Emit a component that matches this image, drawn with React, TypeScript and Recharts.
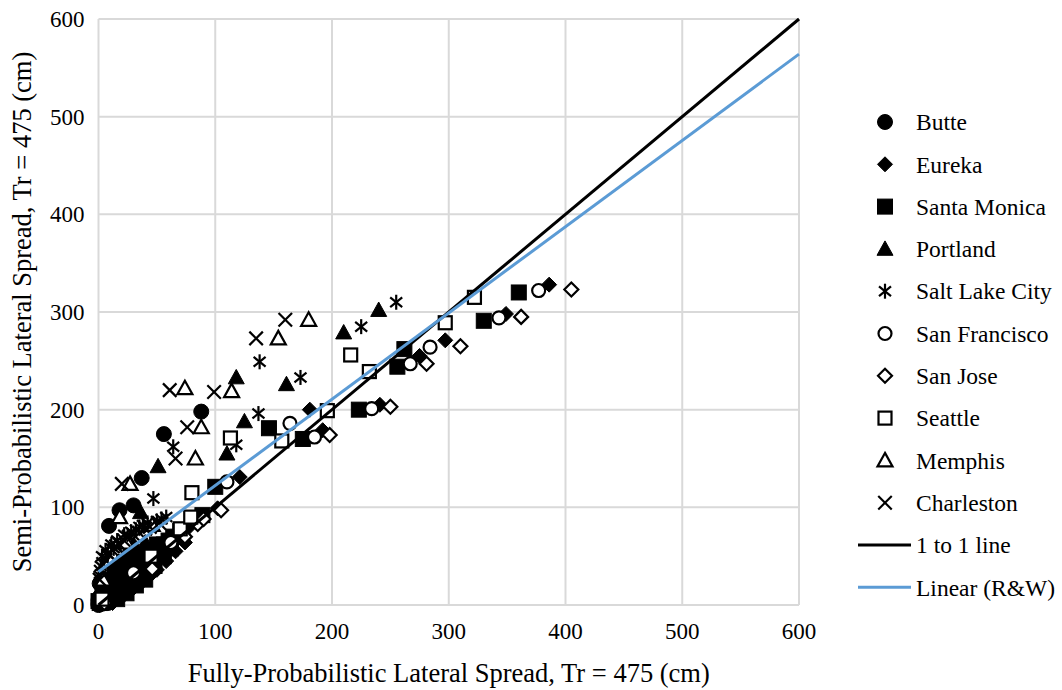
import React from "react";
import { ScatterChart, Scatter, XAxis, YAxis, CartesianGrid, Label } from "recharts";

type Pt = [number, number];

const axisTicks = [0, 100, 200, 300, 400, 500, 600];

const butte: Pt[] = [[0, 0], [0, 2], [0, 5], [1, 8], [2, 1], [3, 6], [5, 3], [7, 9], [10, 14], [12, 20], [15, 28], [1, 4], [2, 10], [3, 18], [4, 24], [1, 22], [6, 14], [8, 2], [4, 12], [9, 81], [18, 97], [30, 102], [37, 130], [56, 175], [88, 198]];
const eureka: Pt[] = [[0, 1], [1, 0], [2, 2], [4, 6], [6, 4], [10, 9], [12, 2], [20, 8], [28, 15], [36, 22], [44, 30], [50, 36], [58, 45], [66, 55], [74, 64], [18, 15], [26, 24], [34, 30], [42, 40], [50, 50], [58, 58], [66, 66], [76, 78], [84, 84], [3, 3], [8, 6], [14, 12], [22, 18], [30, 27], [38, 35], [46, 44], [55, 55], [63, 62], [72, 72], [102, 99], [121, 131], [181, 200], [192, 179], [241, 205], [275, 255], [297, 271], [349, 298], [386, 328]];
const santaMonica: Pt[] = [[0, 4], [3, 5], [9, 11], [16, 18], [24, 26], [32, 34], [40, 42], [48, 54], [56, 62], [64, 70], [70, 76], [16, 6], [24, 12], [32, 20], [40, 26], [48, 40], [56, 50], [62, 58], [10, 20], [18, 30], [26, 38], [34, 46], [42, 52], [50, 62], [6, 26], [14, 34], [22, 44], [30, 50], [1, 2], [6, 8], [12, 14], [20, 22], [28, 30], [36, 38], [44, 50], [52, 58], [60, 66], [89, 92], [100, 121], [146, 181], [175, 170], [223, 200], [256, 244], [262, 262], [330, 291], [360, 320]];
const portland: Pt[] = [[4, 10], [9, 22], [16, 34], [24, 46], [32, 58], [40, 64], [2, 6], [6, 16], [12, 28], [20, 42], [28, 52], [14, 40], [22, 50], [30, 62], [36, 95], [51, 142], [110, 155], [118, 233], [125, 188], [161, 226], [210, 279], [240, 302]];
const saltLake: Pt[] = [[2, 40], [8, 52], [13, 58], [19, 62], [25, 70], [32, 77], [38, 82], [45, 80], [54, 88], [1, 30], [3, 50], [6, 56], [11, 62], [16, 66], [22, 72], [28, 75], [35, 80], [42, 84], [50, 86], [58, 90], [47, 109], [64, 162], [118, 164], [137, 196], [138, 249], [173, 233], [225, 285], [255, 310]];
const sanFrancisco: Pt[] = [[4, 5], [30, 33], [62, 64], [110, 126], [164, 186], [185, 172], [234, 201], [267, 247], [284, 264], [343, 294], [377, 322]];
const sanJose: Pt[] = [[5, 2], [46, 37], [74, 70], [85, 83], [90, 88], [105, 97], [198, 174], [250, 203], [281, 247], [310, 265], [362, 295], [405, 323]];
const seattle: Pt[] = [[3, 6], [45, 50], [70, 78], [79, 90], [80, 115], [113, 171], [157, 168], [196, 199], [216, 256], [232, 239], [297, 289], [322, 315]];
const memphis: Pt[] = [[4, 26], [24, 64], [46, 82], [18, 90], [27, 124], [74, 222], [83, 150], [88, 182], [114, 219], [154, 273], [180, 292]];
const charleston: Pt[] = [[2, 34], [6, 46], [12, 56], [18, 62], [26, 70], [35, 74], [44, 80], [52, 84], [1, 26], [4, 42], [9, 52], [15, 60], [22, 66], [30, 72], [40, 78], [20, 124], [61, 220], [66, 150], [76, 182], [99, 218], [135, 273], [160, 292]];

const oneToOne: Pt[] = [[0, 0], [600, 600]];
const linearFit: Pt[] = [[0, 34], [600, 564]];

const FONT = '"Liberation Serif", "Times New Roman", serif';

type Kind = "circle" | "diamond" | "square" | "triangle" | "star" | "ocircle" | "odiamond" | "osquare" | "otriangle" | "x";

const series: { name: string; kind: Kind; data: Pt[] }[] = [
  { name: "Butte", kind: "circle", data: butte },
  { name: "Eureka", kind: "diamond", data: eureka },
  { name: "Santa Monica", kind: "square", data: santaMonica },
  { name: "Portland", kind: "triangle", data: portland },
  { name: "Salt Lake City", kind: "star", data: saltLake },
  { name: "San Francisco", kind: "ocircle", data: sanFrancisco },
  { name: "San Jose", kind: "odiamond", data: sanJose },
  { name: "Seattle", kind: "osquare", data: seattle },
  { name: "Memphis", kind: "otriangle", data: memphis },
  { name: "Charleston", kind: "x", data: charleston },
];

const toObj = (arr: Pt[]) => arr.map(([x, y]) => ({ x, y }));

function Marker({ cx, cy, kind }: { cx: number; cy: number; kind: Kind }) {
  const r = 7.5;
  const filled = { fill: "#000", stroke: "#000", strokeWidth: 1 };
  const open = { fill: "#fff", stroke: "#000", strokeWidth: 2.2 };
  switch (kind) {
    case "circle":
      return <circle cx={cx} cy={cy} r={r} {...filled} />;
    case "ocircle":
      return <circle cx={cx} cy={cy} r={r - 1} {...open} />;
    case "diamond":
    case "odiamond": {
      const d = kind === "diamond" ? r : r - 0.5;
      return <polygon points={`${cx},${cy - d} ${cx + d},${cy} ${cx},${cy + d} ${cx - d},${cy}`} {...(kind === "diamond" ? filled : open)} />;
    }
    case "square":
      return <rect x={cx - r} y={cy - r} width={2 * r} height={2 * r} {...filled} />;
    case "osquare":
      return <rect x={cx - r + 1} y={cy - r + 1} width={2 * r - 2} height={2 * r - 2} {...open} />;
    case "triangle":
    case "otriangle": {
      const s = kind === "triangle" ? r + 0.5 : r;
      return <polygon points={`${cx},${cy - s} ${cx + s},${cy + s * 0.8} ${cx - s},${cy + s * 0.8}`} {...(kind === "triangle" ? filled : open)} />;
    }
    case "star":
      return (
        <g stroke="#000" strokeWidth={2.2}>
          <line x1={cx} y1={cy - r} x2={cx} y2={cy + r} />
          <line x1={cx - r * 0.8} y1={cy - r * 0.65} x2={cx + r * 0.8} y2={cy + r * 0.65} />
          <line x1={cx - r * 0.8} y1={cy + r * 0.65} x2={cx + r * 0.8} y2={cy - r * 0.65} />
        </g>
      );
    case "x":
    default:
      return (
        <g stroke="#000" strokeWidth={2.2}>
          <line x1={cx - r * 0.9} y1={cy - r * 0.9} x2={cx + r * 0.9} y2={cy + r * 0.9} />
          <line x1={cx - r * 0.9} y1={cy + r * 0.9} x2={cx + r * 0.9} y2={cy - r * 0.9} />
        </g>
      );
  }
}

function LegendBox() {
  const rowY = (i: number) => 122 + i * 42.3;
  const txt = { fontSize: 23.5, fontFamily: FONT, fill: "#000" };
  return (
    <svg width={1062} height={690} style={{ position: "absolute", left: 0, top: 0, pointerEvents: "none" }}>
      {series.map((s, i) => (
        <g key={s.name}>
          <Marker cx={885} cy={rowY(i)} kind={s.kind} />
          <text x={916} y={rowY(i)} dy="0.35em" {...txt}>{s.name}</text>
        </g>
      ))}
      <line x1={858} x2={911} y1={rowY(10)} y2={rowY(10)} stroke="#000" strokeWidth={3} />
      <text x={916} y={rowY(10)} dy="0.35em" {...txt}>1 to 1 line</text>
      <line x1={858} x2={911} y1={rowY(11)} y2={rowY(11)} stroke="#5b9bd5" strokeWidth={3} />
      <text x={916} y={rowY(11)} dy="0.35em" {...txt}>Linear (R&amp;W)</text>
    </svg>
  );
}

export default function App() {
  const tickStyle = { fill: "#000", fontSize: 23, fontFamily: FONT };
  return (
    <div style={{ position: "absolute", left: 0, top: 0, width: 1062, height: 690, background: "#fff" }}>
      <ScatterChart width={1062} height={690} margin={{ top: 19, right: 263, bottom: 0, left: 0 }}>
        <CartesianGrid stroke="#d9d9d9" strokeWidth={2} />
        <XAxis
          type="number"
          dataKey="x"
          domain={[0, 600]}
          ticks={axisTicks}
          axisLine={false}
          tickLine={false}
          height={85}
          tickMargin={12}
          tick={tickStyle}
        >
          <Label value="Fully-Probabilistic Lateral Spread, Tr = 475 (cm)" position="insideBottom" offset={8} style={{ fontSize: 26.5, fontFamily: FONT, fill: "#000" }} />
        </XAxis>
        <YAxis
          type="number"
          dataKey="y"
          domain={[0, 600]}
          ticks={axisTicks}
          axisLine={false}
          tickLine={false}
          width={98.5}
          tickMargin={8}
          tick={tickStyle}
        >
          <Label value="Semi-Probabilistic Lateral Spread, Tr = 475 (cm)" angle={-90} position="insideLeft" offset={22} style={{ fontSize: 26.5, fontFamily: FONT, fill: "#000", textAnchor: "middle" }} />
        </YAxis>
        {series.map((s) => (
          <Scatter
            key={s.name}
            name={s.name}
            data={toObj(s.data)}
            isAnimationActive={false}
            shape={(p: any) => <Marker cx={p.cx} cy={p.cy} kind={s.kind} />}
          />
        ))}
        <Scatter name="1 to 1 line" data={toObj(oneToOne)} line={{ stroke: "#000", strokeWidth: 3 }} shape={() => <g />} isAnimationActive={false} />
        <Scatter name="Linear (R&W)" data={toObj(linearFit)} line={{ stroke: "#5b9bd5", strokeWidth: 3 }} shape={() => <g />} isAnimationActive={false} />
      </ScatterChart>
      <LegendBox />
    </div>
  );
}
